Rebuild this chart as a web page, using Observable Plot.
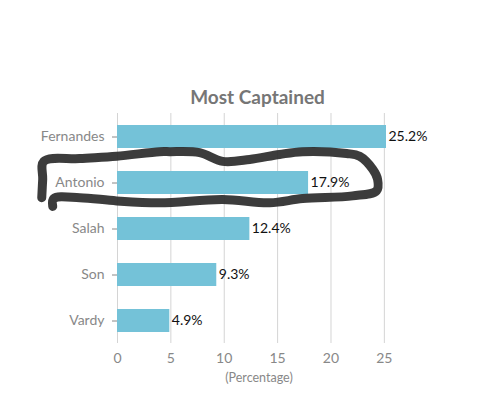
<!DOCTYPE html>
<html>
<head>
<meta charset="utf-8">
<script src="https://cdn.jsdelivr.net/npm/d3@7"></script>
<script src="https://cdn.jsdelivr.net/npm/@observablehq/plot@0.6"></script>
<style>
  html, body { margin: 0; padding: 0; background: #fff; }
  #wrap { position: relative; width: 502px; height: 414px; font-family: Lato, "Open Sans", sans-serif; }
  #title { position: relative; height: 108px; }
  #title span { position: absolute; top: 87px; left: 0; width: 515px; text-align: center;
    font-size: 19px; font-weight: 700; color: #767676; line-height: 20px; }
</style>
</head>
<body>
<div id="wrap">
  <div id="title"><span>Most Captained</span></div>
  <div id="chart"></div>
</div>
<script>
// Data
const players = ["Fernandes", "Antonio", "Salah", "Son", "Vardy"];
const percentages = [25.2, 17.9, 12.4, 9.3, 4.9];
const xTicks = [0, 5, 10, 15, 20, 25];
const titleText = "Most Captained";
const xLabel = "(Percentage)";
// hand-drawn loop around Antonio: x in percentage units, y in row steps from Antonio's centre
const loopRow = "Antonio";
const loopX = [-7.05, -6.96, -6.86, -3.49, -0.03, 4.0, 4.93, 7.74, 9.9, 12.42, 15.23, 17.39, 21.51, 22.73, 23.95, 24.41, 24.32, 22.07, 17.39, 14.3, 9.9, 4.0, -0.03, -3.49, -5.93, -6.02];
const loopY = [0.33, -0.07, -0.46, -0.52, -0.57, -0.67, -0.67, -0.65, -0.46, -0.5, -0.61, -0.67, -0.63, -0.57, -0.29, -0.07, 0.18, 0.29, 0.35, 0.44, 0.37, 0.44, 0.4, 0.33, 0.35, 0.52];

document.querySelector("#title span").textContent = titleText;
const data = players.map((p, i) => ({player: p, value: percentages[i]}));

const plot = Plot.plot({
  width: 502,
  height: 306,
  marginTop: 5,
  marginBottom: 71,
  marginLeft: 117,
  marginRight: 116,
  style: {fontFamily: "Lato, 'Open Sans', sans-serif", fontSize: "14px", color: "#888", background: "transparent"},
  x: {domain: [0, 25.2], ticks: xTicks, label: null},
  y: {domain: players, paddingInner: 0.5, paddingOuter: 0.2, label: null},
  marks: [
    Plot.gridX(xTicks, {stroke: "#d4d4d4", strokeOpacity: 1, strokeWidth: 1}),
    Plot.barX(data, {y: "player", x: "value", fill: "#74c2d8"}),
    Plot.text(data, {y: "player", x: "value", text: d => d.value.toFixed(1) + "%", textAnchor: "start", dx: 2, fill: "#111", fontSize: 14}),
    Plot.axisY({tickSize: 5, tickPadding: 8, stroke: "#888", color: "#888", fontSize: 14, label: null}),
    Plot.axisX({ticks: xTicks, tickSize: 0, tickPadding: 10, color: "#888", fontSize: 14, label: null}),
    Plot.text([xLabel], {frameAnchor: "bottom", dy: 34, dx: 7, fill: "#888", fontSize: 12.5, lineAnchor: "middle"})
  ]
});
document.getElementById("chart").appendChild(plot);

// draw the hand-drawn loop via the plot's own scales
const sx = plot.scale("x");
const sy = plot.scale("y");
const rowCenter = sy.apply(loopRow) + sy.bandwidth / 2;
const pts = loopX.map((v, i) => [sx.apply(v), rowCenter + loopY[i] * sy.step]);
const path = d3.line().curve(d3.curveCatmullRom.alpha(0.5))(pts);
const svg = d3.select(plot.tagName.toLowerCase() === "svg" ? plot : plot.querySelector("svg"));
svg.style("overflow", "visible");
svg.append("path")
  .attr("d", path)
  .attr("fill", "none")
  .attr("stroke", "#2b2b2b")
  .attr("stroke-opacity", 0.92)
  .attr("stroke-width", 9)
  .attr("stroke-linecap", "round")
  .attr("stroke-linejoin", "round");
</script>
</body>
</html>
